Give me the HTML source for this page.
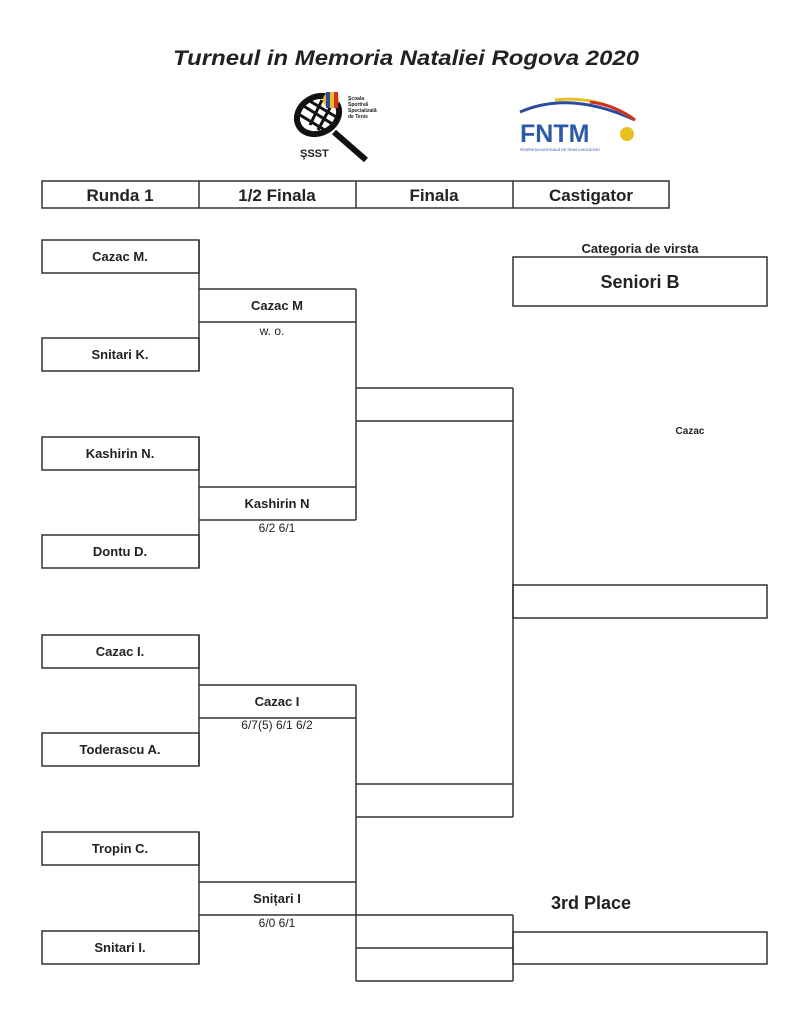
<!DOCTYPE html>
<html><head><meta charset="utf-8"><style>
html,body{margin:0;padding:0;background:#fff;}
svg{display:block;}
text{font-family:"Liberation Sans",Arial,sans-serif;fill:#222;}
</style></head><body>
<svg width="810" height="1024" viewBox="0 0 810 1024" xmlns="http://www.w3.org/2000/svg">
<text x="406" y="65" text-anchor="middle" font-size="21" font-weight="bold" font-style="italic" textLength="466" lengthAdjust="spacingAndGlyphs">Turneul in Memoria Nataliei Rogova 2020</text>
<!-- SSST logo -->
<g stroke="#111" fill="none">
<ellipse cx="318" cy="115" rx="22" ry="18" stroke-width="6" transform="rotate(-30 318 115)"/>
<path d="M302 105 L334 125 M300 115 L328 132 M308 100 L338 118 M310 125 L322 100 M318 130 L332 104" stroke-width="3"/>
<line x1="334" y1="132" x2="366" y2="160" stroke-width="6"/>
</g>
<circle cx="331" cy="100" r="8" fill="#e8c020"/>
<rect x="326" y="92" width="4" height="16" fill="#2a4aa0"/>
<rect x="334" y="92" width="4" height="16" fill="#d03020"/>
<text x="300" y="157" font-size="11" font-weight="bold">ŞSST</text>
<text x="348" y="100" font-size="5" font-weight="bold">Şcoala</text>
<text x="348" y="106" font-size="5" font-weight="bold">Sportivă</text>
<text x="348" y="112" font-size="5" font-weight="bold">Specializată</text>
<text x="348" y="118" font-size="5" font-weight="bold">de Tenis</text>
<!-- FNTM logo -->
<path d="M520 112 Q570 90 635 120" stroke="#2a4aa0" stroke-width="3" fill="none"/>
<path d="M555 100 Q600 95 635 120" stroke="#e8c020" stroke-width="3" fill="none"/>
<path d="M590 102 Q615 105 635 120" stroke="#d03020" stroke-width="3" fill="none"/>
<text x="520" y="142" font-size="25" font-weight="bold" style="fill:#2a5aa8">FNTM</text>
<circle cx="627" cy="134" r="7" fill="#e8c020"/>
<text x="520" y="151" font-size="3.5" style="fill:#2a4aa0">FEDERAȚIA NAȚIONALĂ DE TENIS A MOLDOVEI</text>
<g stroke="#333" stroke-width="1.5" fill="none">
<rect x="42" y="181" width="627" height="27"/>
<line x1="199" y1="181" x2="199" y2="208"/><line x1="356" y1="181" x2="356" y2="208"/><line x1="513" y1="181" x2="513" y2="208"/>
<rect x="42" y="240" width="157" height="33"/><rect x="42" y="338" width="157" height="33"/>
<rect x="42" y="437" width="157" height="33"/><rect x="42" y="535" width="157" height="33"/>
<rect x="42" y="635" width="157" height="33"/><rect x="42" y="733" width="157" height="33"/>
<rect x="42" y="832" width="157" height="33"/><rect x="42" y="931" width="157" height="33"/>
<line x1="199" y1="240" x2="199" y2="371"/><line x1="199" y1="437" x2="199" y2="568"/>
<line x1="199" y1="635" x2="199" y2="766"/><line x1="199" y1="832" x2="199" y2="964"/>
<line x1="199" y1="289" x2="356" y2="289"/><line x1="199" y1="322" x2="356" y2="322"/>
<line x1="199" y1="487" x2="356" y2="487"/><line x1="199" y1="520" x2="356" y2="520"/>
<line x1="199" y1="685" x2="356" y2="685"/><line x1="199" y1="718" x2="356" y2="718"/>
<line x1="199" y1="882" x2="356" y2="882"/><line x1="199" y1="915" x2="356" y2="915"/>
<line x1="356" y1="289" x2="356" y2="520"/><line x1="356" y1="685" x2="356" y2="981"/>
<line x1="356" y1="388" x2="513" y2="388"/><line x1="356" y1="421" x2="513" y2="421"/>
<line x1="356" y1="784" x2="513" y2="784"/><line x1="356" y1="817" x2="513" y2="817"/>
<line x1="513" y1="388" x2="513" y2="817"/>
<rect x="513" y="585" width="254" height="33"/>
<rect x="513" y="257" width="254" height="49"/>
<line x1="356" y1="915" x2="513" y2="915"/><line x1="356" y1="948" x2="513" y2="948"/><line x1="356" y1="981" x2="513" y2="981"/>
<line x1="513" y1="915" x2="513" y2="981"/>
<rect x="513" y="932" width="254" height="32"/>
</g>
<g font-size="17" font-weight="bold" text-anchor="middle">
<text x="120" y="201">Runda 1</text><text x="277" y="201">1/2 Finala</text>
<text x="434" y="201">Finala</text><text x="591" y="201">Castigator</text>
</g>
<g font-size="13" font-weight="bold" text-anchor="middle">
<text x="120" y="261">Cazac M.</text><text x="120" y="359">Snitari K.</text>
<text x="120" y="458">Kashirin N.</text><text x="120" y="556">Dontu D.</text>
<text x="120" y="656">Cazac I.</text><text x="120" y="754">Toderascu A.</text>
<text x="120" y="853">Tropin C.</text><text x="120" y="952">Snitari I.</text>
<text x="277" y="310">Cazac M</text><text x="277" y="508">Kashirin N</text>
<text x="277" y="706">Cazac I</text><text x="277" y="903">Snițari I</text>
<text x="640" y="253">Categoria de virsta</text>
</g>
<g font-size="12" text-anchor="middle">
<text x="272" y="335">w. o.</text><text x="277" y="532">6/2  6/1</text>
<text x="277" y="729">6/7(5) 6/1 6/2</text><text x="277" y="927">6/0  6/1</text>
</g>
<text x="640" y="288" font-size="18" font-weight="bold" text-anchor="middle">Seniori B</text>
<text x="690" y="434" font-size="10" font-weight="bold" text-anchor="middle">Cazac</text>
<text x="591" y="909" font-size="18" font-weight="bold" text-anchor="middle">3rd Place</text>
</svg>
</body></html>
